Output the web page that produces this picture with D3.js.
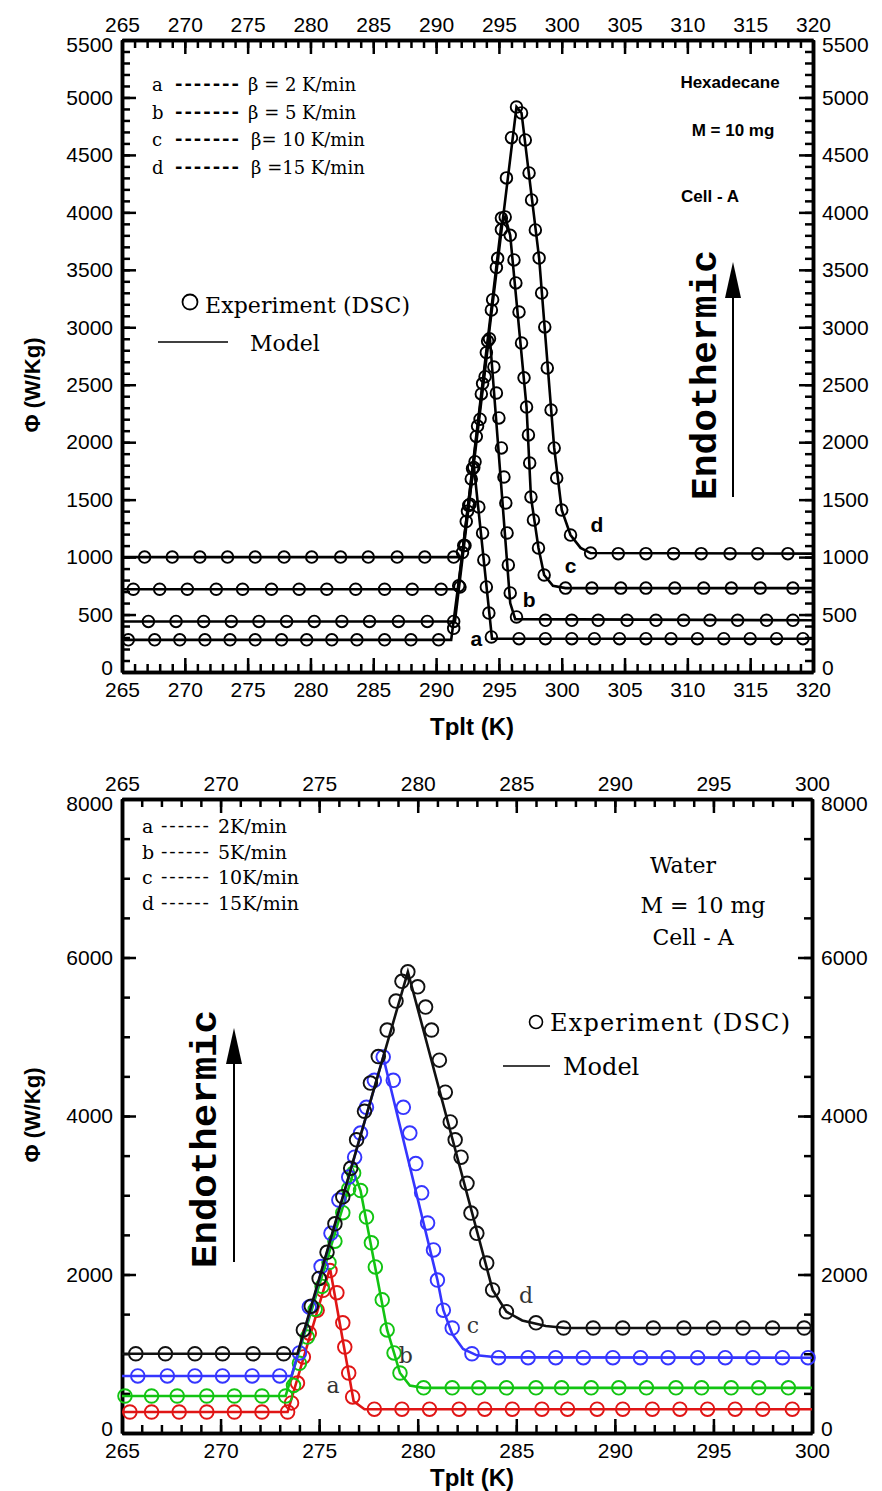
<!DOCTYPE html>
<html>
<head>
<meta charset="utf-8">
<script src="https://cdn.jsdelivr.net/npm/d3@7"></script>
<style>
  body { margin: 0; background: #fff; }
  svg { display: block; }
</style>
</head>
<body>
<div id="chart"></div>
<script>
// ---------- Hexadecane (top panel) ----------
let hexXTicks = [265, 270, 275, 280, 285, 290, 295, 300, 305, 310, 315, 320];
let hexYTicks = [0, 500, 1000, 1500, 2000, 2500, 3000, 3500, 4000, 4500, 5000, 5500];

let hexExpA = [[265.5,280],[267.6,280],[269.6,280],[271.6,280],[273.6,280],[275.6,280],[277.7,280],[279.7,280],[281.7,280],[283.7,280],[285.9,280],[288.0,280],[290.2,280],
  [291.4,380],[291.8,750],[292.2,1100],[292.6,1450],[293.0,1780],[293.4,1436],[293.7,1210],[293.8,975],[294.0,740],[294.2,513],[294.4,305],
  [296.6,290],[298.7,290],[300.8,290],[302.6,290],[304.6,290],[306.7,290],[308.7,290],[310.8,290],[312.9,290],[315.0,290],[317.1,290],[319.2,290]];
let hexExpB = [[267.1,440],[269.3,440],[271.5,440],[273.7,440],[275.9,440],[278.1,440],[280.3,440],[282.5,440],[284.7,440],[287.0,440],[289.3,440],[291.4,440],
  [291.9,740],[292.3,1100],[292.7,1460],[293.1,1830],[293.5,2200],[293.9,2570],[294.25,2900],[294.6,2654],[294.8,2428],[295.0,2211],[295.2,1950],[295.4,1697],[295.55,1471],[295.65,1210],[295.75,931],[295.9,688],[296.4,479],
  [298.7,450],[300.8,450],[302.9,450],[305.2,450],[307.5,450],[309.7,450],[311.8,450],[314.0,450],[316.3,450],[318.4,450]];
let hexExpC = [[265.9,720],[268.0,720],[270.2,720],[272.5,720],[274.6,720],[276.9,720],[279.1,720],[281.3,720],[283.6,720],[285.9,720],[288.1,720],[290.4,720],
  [292.1,1040],[292.5,1400],[292.9,1770],[293.3,2140],[293.7,2510],[294.1,2880],[294.5,3240],[294.9,3600],[295.2,3850],[295.5,3960],[295.9,3800],[296.2,3586],[296.35,3386],[296.6,3133],[296.8,2863],[297.0,2560],[297.2,2306],[297.35,2063],[297.45,1819],[297.55,1523],[297.75,1323],[298.15,1079],[298.6,844],
  [300.3,730],[302.4,730],[304.7,730],[306.7,730],[309.0,730],[311.3,730],[313.5,730],[315.8,730],[318.4,730]];
let hexExpD = [[266.8,1000],[269.0,1000],[271.2,1000],[273.4,1000],[275.6,1000],[277.9,1000],[280.1,1000],[282.4,1000],[284.6,1000],[286.9,1000],[289.1,1000],[291.4,1000],
  [292.4,1310],[292.8,1680],[293.2,2050],[293.6,2420],[294.0,2780],[294.4,3150],[294.8,3520],[295.2,3950],[295.6,4300],[296.0,4650],[296.4,4917],[296.8,4865],[297.1,4630],[297.4,4343],[297.6,4108],[297.9,3847],[298.2,3603],[298.4,3298],[298.65,3003],[298.85,2646],[299.15,2280],[299.4,1950],[299.6,1688],[300.0,1410],[300.7,1192],[302.3,1035],
  [304.5,1030],[306.7,1030],[308.9,1030],[311.1,1030],[313.4,1030],[315.6,1030],[318.0,1030]];

let hexModelA = [[265,280],[291.2,280],[293.0,1800],[294.45,290],[320,290]];
let hexModelB = [[265,440],[291.5,440],[294.25,2950],[295.9,600],[296.3,460],[320,450]];
let hexModelC = [[265,720],[291.75,720],[295.2,3900],[295.5,3960],[295.9,3800],[297.2,2306],[297.55,1523],[298.15,1079],[298.6,844],[299.3,750],[300.3,730],[320,730]];
let hexModelD = [[265,1000],[292.05,1000],[296.4,4917],[296.8,4865],[298.2,3603],[299.4,1950],[300.0,1410],[300.7,1192],[301.5,1080],[302.3,1035],[320,1030]];

let hexCurveLabels = [["a",293.2,230],["b",297.4,570],["c",300.7,860],["d",302.8,1220]];
let hexRates = ["\u03b2 = 2 K/min", "\u03b2 = 5 K/min", "\u03b2= 10 K/min", "\u03b2 =15 K/min"];

// ---------- Water (bottom panel) ----------
let waterXTicks = [265, 270, 275, 280, 285, 290, 295, 300];
let waterYTicks = [0, 2000, 4000, 6000, 8000];

let waterExpA = [[265.4,265],[266.5,265],[267.9,265],[269.3,265],[270.7,265],[272.1,265],[273.4,265],
  [273.6,380],[273.9,630],[274.2,960],[274.5,1260],[274.9,1550],[275.2,1800],[275.55,2050],[275.9,1770],[276.2,1390],[276.3,1085],[276.5,757],[276.7,455],
  [277.8,300],[279.2,300],[280.6,300],[282.1,300],[283.4,300],[284.8,300],[286.3,300],[287.6,300],[289.1,300],[290.4,300],[291.9,300],[293.3,300],[294.7,300],[296.1,300],[297.5,300],[299.0,300]];
let waterExpB = [[265.15,467],[266.5,467],[267.8,467],[269.3,467],[270.7,467],[272.1,467],[273.3,467],
  [273.7,600],[274.0,880],[274.4,1210],[274.8,1560],[275.15,1850],[275.5,2150],[275.8,2420],[276.2,2780],[276.5,3080],[276.75,3280],[277.1,3060],[277.4,2725],[277.65,2400],[277.85,2095],[278.2,1680],[278.45,1300],[278.8,1010],[279.1,757],
  [280.3,570],[281.75,570],[283.1,570],[284.5,570],[286.0,570],[287.3,570],[288.8,570],[290.2,570],[291.6,570],[293.1,570],[294.4,570],[295.9,570],[297.3,570],[298.8,570]];
let waterExpC = [[265.8,720],[267.3,720],[268.7,720],[270.1,720],[271.6,720],[273.0,720],
  [274.0,1010],[274.5,1590],[275.1,2100],[275.6,2520],[276.0,2940],[276.5,3230],[276.8,3480],[277.1,3785],[277.4,4110],[277.8,4450],[278.25,4745],[278.76,4450],[279.27,4110],[279.6,3785],[279.9,3400],[280.2,3030],[280.5,2650],[280.8,2310],[281.0,1930],[281.3,1550],[281.75,1325],[282.75,1000],
  [284.1,950],[285.6,950],[287.0,950],[288.4,950],[289.9,950],[291.3,950],[292.7,950],[294.2,950],[295.6,950],[297.0,950],[298.5,950],[299.8,950]];
let waterExpD = [[265.7,1000],[267.2,1000],[268.7,1000],[270.1,1000],[271.65,1000],[273.2,1000],
  [274.2,1300],[274.6,1600],[275.0,1950],[275.4,2280],[275.8,2640],[276.2,2980],[276.6,3340],[276.9,3700],[277.3,4060],[277.6,4416],[278.0,4750],[278.45,5085],[278.9,5450],[279.2,5700],[279.5,5820],[280.0,5630],[280.4,5375],[280.7,5085],[281.1,4705],[281.4,4300],[281.65,3925],[281.9,3700],[282.2,3480],[282.5,3150],[282.7,2775],[283.0,2520],[283.5,2145],[283.8,1805],[284.5,1530],[286.0,1390],[287.4,1325],
  [288.9,1325],[290.4,1325],[291.95,1325],[293.5,1325],[295.0,1325],[296.5,1325],[298.0,1325],[299.6,1325]];

let waterModelA = [[265,265],[273.4,265],[275.55,2080],[276.75,400],[277.3,300],[300,300]];
let waterModelB = [[265,467],[273.3,467],[276.75,3300],[277.1,3060],[278.45,1300],[278.8,1010],[279.1,757],[279.6,600],[280.3,570],[300,570]];
let waterModelC = [[265,720],[273.6,720],[278.25,4745],[281.0,1930],[281.3,1550],[281.75,1250],[282.3,1060],[283.0,980],[284.0,955],[300,950]];
let waterModelD = [[265,1000],[273.9,1000],[279.5,5820],[283.8,1805],[284.5,1530],[285.3,1420],[286.5,1350],[287.5,1325],[300,1325]];

let waterColors = ["#e01515", "#12c412", "#3535ff", "#111111"];
let waterCurveLabels = [["a",275.7,510],["b",279.4,880],["c",282.8,1260],["d",285.5,1640]];
let waterRates = ["2K/min", "5K/min", "10K/min", "15K/min"];

let width = 882, height = 1491;

let svg = d3.select("#chart").append("svg")
  .attr("width", width)
  .attr("height", height)
  .style("background", "#fff");

let tickFont = "Liberation Sans, Arial, sans-serif";
let serif = "DejaVu Serif, serif";

function drawAxes(x, y, xTicks, yTicks, xMinor, yMinor) {
  let g = svg.append("g");
  let left = x.range()[0], right = x.range()[1];
  let top = y.range()[1], bottom = y.range()[0];
  let fmt = d3.format("d");
  let yMax = y.domain()[1];

  // minor ticks first
  g.append("g").attr("transform", `translate(0,${bottom})`)
    .call(d3.axisBottom(x).tickValues(xMinor).tickSize(-8).tickSizeOuter(0).tickFormat(""));
  g.append("g").attr("transform", `translate(0,${top})`)
    .call(d3.axisTop(x).tickValues(xMinor).tickSize(-8).tickSizeOuter(0).tickFormat(""));
  g.append("g").attr("transform", `translate(${left},0)`)
    .call(d3.axisLeft(y).tickValues(yMinor).tickSize(-8).tickSizeOuter(0).tickFormat(""));
  g.append("g").attr("transform", `translate(${right},0)`)
    .call(d3.axisRight(y).tickValues(yMinor).tickSize(-8).tickSizeOuter(0).tickFormat(""));

  g.append("g").attr("transform", `translate(0,${bottom})`)
    .call(d3.axisBottom(x).tickValues(xTicks).tickSize(-14).tickSizeOuter(0).tickPadding(10).tickFormat(fmt));
  g.append("g").attr("transform", `translate(0,${top})`)
    .call(d3.axisTop(x).tickValues(xTicks).tickSize(-14).tickSizeOuter(0).tickPadding(8).tickFormat(fmt));
  g.append("g").attr("class", "yl").attr("transform", `translate(${left},0)`)
    .call(d3.axisLeft(y).tickValues(yTicks).tickSize(-14).tickSizeOuter(0).tickPadding(9).tickFormat(fmt));
  g.append("g").attr("class", "yr").attr("transform", `translate(${right},0)`)
    .call(d3.axisRight(y).tickValues(yTicks).tickSize(-14).tickSizeOuter(0).tickPadding(9).tickFormat(fmt));

  g.selectAll(".domain").attr("stroke", "#000").attr("stroke-width", 3.5);
  g.selectAll(".tick line").attr("stroke", "#000").attr("stroke-width", 2.5);
  g.selectAll(".tick text").attr("fill", "#000")
    .style("font-family", tickFont).style("font-size", "21px");
  // nudge the corner labels away from the x labels
  g.selectAll(".yl .tick text, .yr .tick text").filter(d => d === 0).attr("dy", "0.1em");
  g.selectAll(".yl .tick text, .yr .tick text").filter(d => d === yMax).attr("dy", "0.55em");
  return g;
}

function drawSeries(x, y, model, exp, color, r) {
  let line = d3.line().x(d => x(d[0])).y(d => y(d[1]));
  svg.append("path")
    .datum(model)
    .attr("d", line)
    .attr("fill", "none")
    .attr("stroke", color)
    .attr("stroke-width", 2.6);
  svg.append("g").selectAll("circle")
    .data(exp).enter()
    .append("circle")
    .attr("cx", d => x(d[0]))
    .attr("cy", d => y(d[1]))
    .attr("r", r)
    .attr("fill", "none")
    .attr("stroke", color)
    .attr("stroke-width", 1.9);
}

// ================= top panel =================
let x1 = d3.scaleLinear().domain([265, 320]).range([122, 813]);
let y1 = d3.scaleLinear().domain([0, 5500]).range([672, 40]);

drawAxes(x1, y1, hexXTicks, hexYTicks, d3.range(265, 320.5, 1), d3.range(0, 5501, 100));

let hexModels = [hexModelA, hexModelB, hexModelC, hexModelD];
let hexExps = [hexExpA, hexExpB, hexExpC, hexExpD];
hexModels.forEach((m, i) => drawSeries(x1, y1, m, hexExps[i], "#000", 5.8));

svg.append("g").selectAll("text")
  .data(hexCurveLabels).enter()
  .append("text")
  .attr("x", d => x1(d[1]))
  .attr("y", d => y1(d[2]))
  .attr("text-anchor", "middle")
  .style("font-family", tickFont).style("font-weight", "bold").style("font-size", "21px")
  .text(d => d[0]);

// rate legend
let hexLeg = svg.append("g").style("font-family", serif).style("font-size", "18px");
["a", "b", "c", "d"].forEach((k, i) => {
  let yy = 91 + i * 27.5;
  hexLeg.append("text").attr("x", 152).attr("y", yy).text(k);
  hexLeg.append("text").attr("x", 175).attr("y", yy - 1).attr("textLength", 64)
    .attr("lengthAdjust", "spacing").style("font-weight", "bold").text("-------");
  hexLeg.append("text").attr("x", 248 + (i >= 2 ? 3 : 0)).attr("y", yy).text(hexRates[i]);
});

let boldSans = g => g.style("font-family", tickFont).style("font-weight", "bold");
svg.append("text").attr("x", 730).attr("y", 88).attr("text-anchor", "middle")
  .call(boldSans).style("font-size", "17px").text("Hexadecane");
svg.append("text").attr("x", 733).attr("y", 136).attr("text-anchor", "middle")
  .call(boldSans).style("font-size", "17px").text("M = 10 mg");
svg.append("text").attr("x", 710).attr("y", 202).attr("text-anchor", "middle")
  .call(boldSans).style("font-size", "17px").text("Cell - A");

// experiment / model legend
svg.append("circle").attr("cx", 190).attr("cy", 302).attr("r", 7.5)
  .attr("fill", "none").attr("stroke", "#000").attr("stroke-width", 1.8);
svg.append("text").attr("x", 205).attr("y", 313).style("font-family", serif).style("font-size", "22px")
  .attr("textLength", 205).text("Experiment (DSC)");
svg.append("line").attr("x1", 158).attr("x2", 228).attr("y1", 342).attr("y2", 342)
  .attr("stroke", "#000").attr("stroke-width", 1.5);
svg.append("text").attr("x", 250).attr("y", 351).style("font-family", serif).style("font-size", "22px")
  .text("Model");

// endothermic arrow
function endo(xText, yStart, len, xArrow, yTail, yTip) {
  svg.append("text")
    .attr("transform", `translate(${xText},${yStart}) rotate(-90)`)
    .style("font-family", "Liberation Mono, Courier New, monospace")
    .style("font-weight", "bold").style("font-size", "36px")
    .attr("textLength", len).attr("lengthAdjust", "spacingAndGlyphs")
    .text("Endothermic");
  svg.append("line").attr("x1", xArrow).attr("x2", xArrow).attr("y1", yTail).attr("y2", yTip + 30)
    .attr("stroke", "#000").attr("stroke-width", 2);
  svg.append("path")
    .attr("d", `M${xArrow},${yTip} L${xArrow - 8},${yTip + 36} L${xArrow + 8},${yTip + 36} Z`)
    .attr("fill", "#000");
}
endo(716, 500, 250, 733, 497, 262);

// axis titles
function axisTitles(cx, bottomY, midY) {
  svg.append("text").attr("x", cx).attr("y", bottomY).attr("text-anchor", "middle")
    .call(boldSans).style("font-size", "24px").text("Tplt (K)");
  svg.append("text").attr("transform", `translate(40,${midY}) rotate(-90)`).attr("text-anchor", "middle")
    .call(boldSans).style("font-size", "22px").text("\u03a6 (W/Kg)");
}
axisTitles(472, 735, 385);

// ================= bottom panel =================
let x2 = d3.scaleLinear().domain([265, 300]).range([122, 812]);
let y2 = d3.scaleLinear().domain([0, 8000]).range([1433, 799]);

drawAxes(x2, y2, waterXTicks, waterYTicks, d3.range(265, 300.5, 1), d3.range(0, 8001, 500));

let waterModels = [waterModelA, waterModelB, waterModelC, waterModelD];
let waterExps = [waterExpA, waterExpB, waterExpC, waterExpD];
waterModels.forEach((m, i) => drawSeries(x2, y2, m, waterExps[i], waterColors[i], 6.8));

svg.append("g").selectAll("text")
  .data(waterCurveLabels).enter()
  .append("text")
  .attr("x", d => x2(d[1]))
  .attr("y", d => y2(d[2]))
  .attr("text-anchor", "middle")
  .attr("fill", "#333")
  .style("font-family", serif).style("font-size", "22px")
  .text(d => d[0]);

let waterLeg = svg.append("g").style("font-family", serif).style("font-size", "19px");
["a", "b", "c", "d"].forEach((k, i) => {
  let yy = 833 + i * 25.7;
  waterLeg.append("text").attr("x", 142).attr("y", yy).text(k);
  waterLeg.append("text").attr("x", 161).attr("y", yy - 1).attr("textLength", 48)
    .attr("lengthAdjust", "spacing").text("------");
  waterLeg.append("text").attr("x", 218).attr("y", yy).text(waterRates[i]);
});

svg.append("text").attr("x", 683).attr("y", 873).attr("text-anchor", "middle")
  .style("font-family", serif).style("font-size", "22px").text("Water");
svg.append("text").attr("x", 703).attr("y", 913).attr("text-anchor", "middle")
  .style("font-family", serif).style("font-size", "22px").text("M = 10 mg");
svg.append("text").attr("x", 693).attr("y", 945).attr("text-anchor", "middle")
  .style("font-family", serif).style("font-size", "22px").text("Cell - A");

svg.append("circle").attr("cx", 536).attr("cy", 1022).attr("r", 6.5)
  .attr("fill", "none").attr("stroke", "#000").attr("stroke-width", 1.6);
svg.append("text").attr("x", 550).attr("y", 1031).style("font-family", serif).style("font-size", "24px")
  .attr("textLength", 240).text("Experiment (DSC)");
svg.append("line").attr("x1", 503).attr("x2", 550).attr("y1", 1066).attr("y2", 1066)
  .attr("stroke", "#000").attr("stroke-width", 1.5);
svg.append("text").attr("x", 563).attr("y", 1075).style("font-family", serif).style("font-size", "24px")
  .text("Model");

endo(216, 1268, 258, 234, 1262, 1028);

axisTitles(472, 1486, 1115);
</script>
</body>
</html>
